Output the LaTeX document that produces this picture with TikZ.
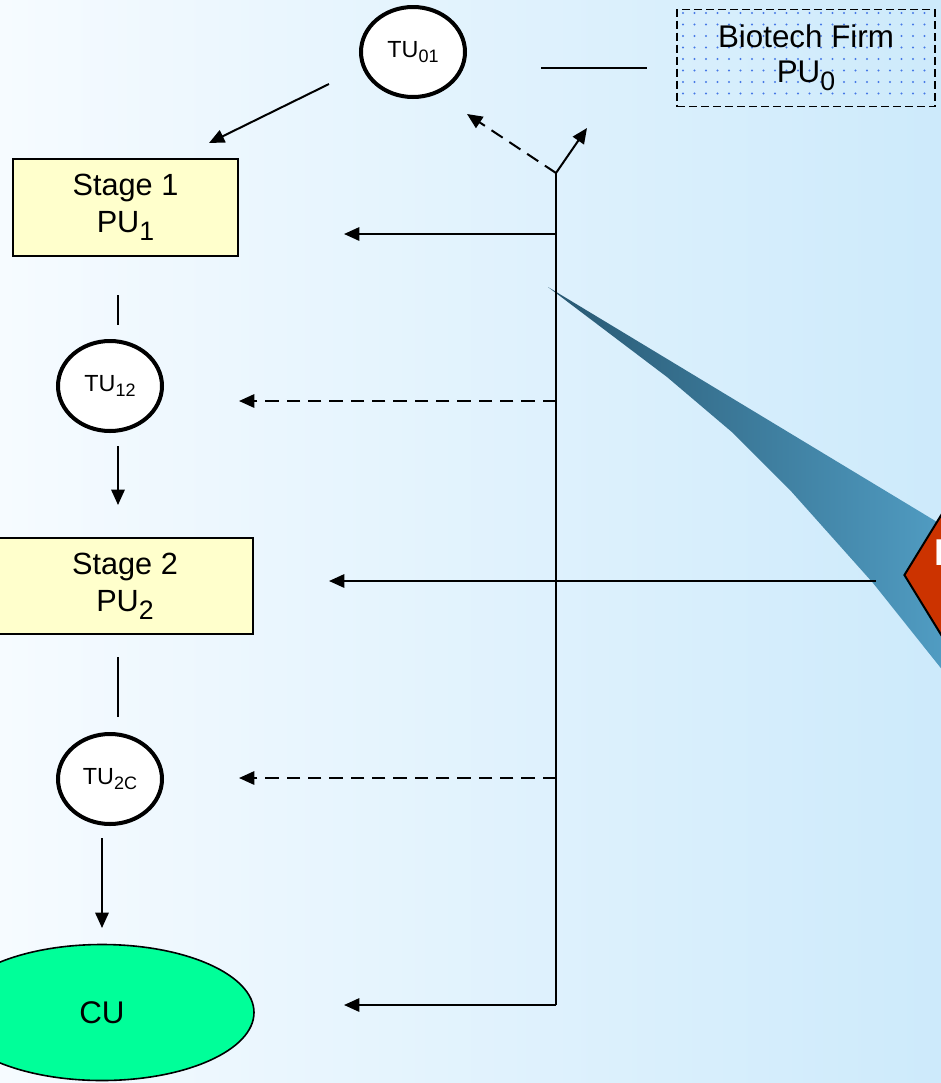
\documentclass[tikz,border=0pt]{standalone}
\usepackage{fontspec}
\setmainfont{Liberation Sans}
\usetikzlibrary{arrows.meta,shapes.geometric}

\definecolor{bgL}{RGB}{246,251,255}
\definecolor{bgR}{RGB}{205,234,251}
\definecolor{stagefill}{RGB}{255,255,204}
\definecolor{cufill}{RGB}{0,255,153}
\definecolor{alertred}{RGB}{204,51,0}
\definecolor{wedgeL}{RGB}{40,88,114}
\definecolor{wedgeR}{RGB}{86,166,206}
\definecolor{dotblue}{RGB}{70,120,230}

% label helpers: main text with a lowered index
\newcommand{\pusub}[2]{#1\raisebox{-6pt}{\fontsize{20}{20}\selectfont #2}}
\newcommand{\tusub}[1]{TU\raisebox{-4pt}{\fontsize{13.5}{13.5}\selectfont #1}}

\tikzset{
  conn/.style={line width=1.5pt},
  arr/.style={conn, -{Triangle[length=11.5pt,width=10pt]}},
  dasharr/.style={arr, dash pattern=on 10pt off 6pt},
  tunit/.style={ellipse, draw, line width=3pt, fill=white, inner sep=0pt,
    minimum width=78pt, minimum height=67.5pt, font=\fontsize{17.5}{17.5}\selectfont},
  stagebox/.style={rectangle, draw, line width=2pt, fill=stagefill, align=center,
    inner sep=0pt, font=\fontsize{23}{28}\selectfont},
  firmbox/.style={rectangle, draw, line width=1.2pt, dash pattern=on 6pt off 3pt,
    align=center, inner sep=0pt, minimum width=193.5pt, minimum height=72.75pt,
    font=\fontsize{23.5}{26}\selectfont},
  consumer/.style={ellipse, draw, line width=1.2pt, fill=cufill, inner sep=0pt,
    minimum width=228pt, minimum height=102pt, font=\fontsize{23.5}{23.5}\selectfont},
  alertdiamond/.style={diamond, draw, line width=1.5pt, fill=alertred, inner sep=0pt,
    aspect=0.615, minimum width=120pt, minimum height=195pt}
}

\begin{document}
\begin{tikzpicture}[x=0.75pt,y=-0.75pt]
\useasboundingbox (0,0) rectangle (941,1083);
\clip (0,0) rectangle (941,1083);

% backdrop
\shade[left color=bgL, right color=bgR] (0,0) rectangle (941,1083);

% pointer wedge of the alert
\shade[left color=wedgeL, right color=wedgeR]
  (548,287) -- (1000,560) -- (975,712) -- (940,667) -- (873,583) -- (790,490)
  -- (733,433) -- (667,377) -- cycle;

% dotted fill of the firm box
\foreach \i in {0,...,21}
  \foreach \j in {0,...,7}
    \fill[dotblue] (683+\i*11.5, 13+\j*11.5) circle (0.8pt);

% units
\node[tunit] (tu01) at (413,52) {\tusub{01}};
\node[firmbox] (firm) at (806,58) {Biotech Firm\\\pusub{PU}{0}};
\node[stagebox, minimum width=168.75pt, minimum height=72.75pt] (stage1) at (125.5,207.5)
  {Stage 1\\\pusub{PU}{1}};
\node[tunit] (tu12) at (110,386) {\tusub{12}};
\node[stagebox, minimum width=192pt, minimum height=72pt] (stage2) at (125,586)
  {Stage 2\\\pusub{PU}{2}};
\node[tunit] (tu2c) at (110,779) {\tusub{2C}};
\node[consumer] (cu) at (102,1012.5) {CU};
\node[alertdiamond] (alert) at (984,575) {};
\node[anchor=base west, text=white, inner sep=0pt,
  font=\bfseries\fontsize{28}{28}\selectfont] (alerttext) at (934,565) {Recall};

% connector end points
\coordinate (tuFirmA) at (541,68);
\coordinate (tuFirmB) at (647,68);
\coordinate (tuOut) at (329,84);
\coordinate (s1In) at (209,143);
\coordinate (s1Out) at (118,295);
\coordinate (t12In) at (118,325);
\coordinate (t12Out) at (118,446);
\coordinate (s2In) at (118,505);
\coordinate (s2Out) at (118,657);
\coordinate (t2cIn) at (118,717);
\coordinate (t2cOut) at (102,838);
\coordinate (cuIn) at (102,928);

% signal bus
\coordinate (busTop) at (556,173);
\coordinate (busBot) at (556,1005);
\coordinate (bus1) at (556,234);
\coordinate (bus2) at (556,401);
\coordinate (bus3) at (876,581);
\coordinate (bus4) at (556,778);
\coordinate (tipTU) at (467,114);
\coordinate (tipFirm) at (587,128);
\coordinate (tip1) at (344,234);
\coordinate (tip2) at (239,401);
\coordinate (tip3) at (329,581);
\coordinate (tip4) at (239,778);
\coordinate (tip5) at (344,1005);

% flow along the chain
\draw[conn] (tuFirmA) -- (tuFirmB);
\draw[arr] (tuOut) -- (s1In);
\draw[conn] (s1Out) -- (t12In);
\draw[arr] (t12Out) -- (s2In);
\draw[conn] (s2Out) -- (t2cIn);
\draw[arr] (t2cOut) -- (cuIn);

% bus and its branches
\draw[conn] (busTop) -- (busBot);
\draw[arr] (busBot) -- (tip5);
\draw[dasharr] (busTop) -- (tipTU);
\draw[arr] (busTop) -- (tipFirm);
\draw[arr] (bus1) -- (tip1);
\draw[dasharr] (bus2) -- (tip2);
\draw[arr] (bus3) -- (tip3);
\draw[dasharr] (bus4) -- (tip4);
\end{tikzpicture}
\end{document}
